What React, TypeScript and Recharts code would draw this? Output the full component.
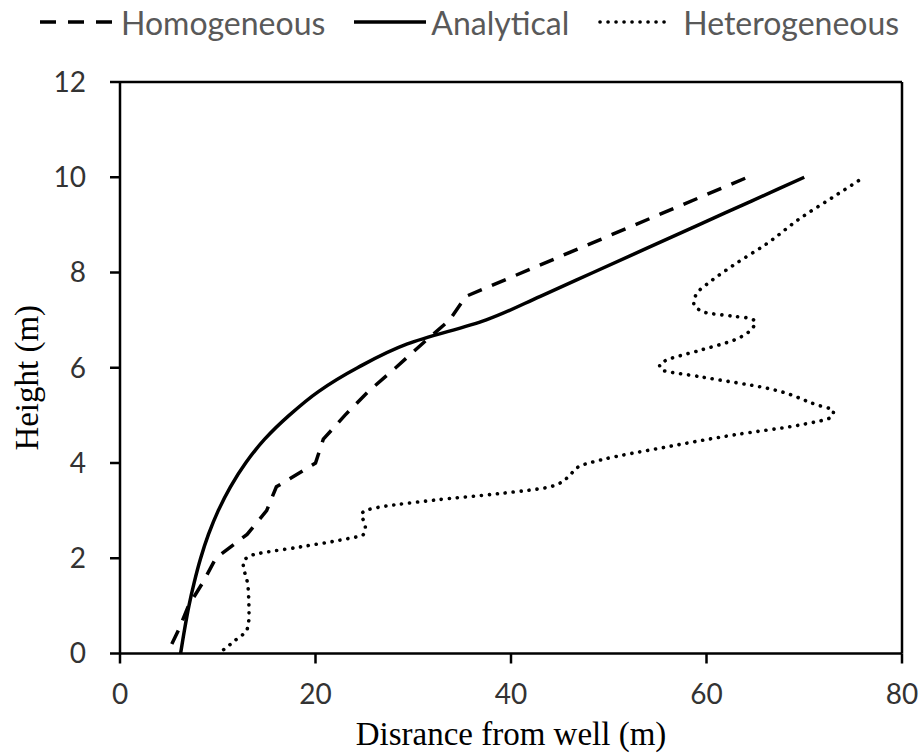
import React from 'react';
import { LineChart, Line, XAxis, YAxis, ReferenceLine, Legend } from 'recharts';

// ---- Data ----
const xTicks = [0, 20, 40, 60, 80];
const yTicks = [0, 2, 4, 6, 8, 10, 12];

const homogeneousDistance = [5.3, 6.0, 7.0, 8.5, 9.8, 13.0, 15.0, 16.0, 20.0, 20.8, 23.0, 25.4, 28.2, 30.9, 33.7, 35.4, 64.2];
const homogeneousHeight = [0.2, 0.5, 1.0, 1.5, 2.0, 2.5, 3.0, 3.5, 4.0, 4.5, 5.0, 5.5, 6.0, 6.5, 7.0, 7.5, 10.0];

const analyticalDistance = [6.2, 6.6, 7.05, 7.6, 8.25, 9.05, 10.05, 11.3, 12.85, 14.8, 17.3, 20.3, 24.3, 29.4, 37.4, 43.0, 48.4, 53.8, 59.2, 64.6, 70.0];
const analyticalHeight = [0, 0.5, 1.0, 1.5, 2.0, 2.5, 3.0, 3.5, 4.0, 4.5, 5.0, 5.5, 6.0, 6.5, 7.0, 7.5, 8.0, 8.5, 9.0, 9.5, 10.0];

const heterogeneousDistance = [
  10.6, 11.8, 13.0, 13.2, 13.1, 12.6, 13.3, 18.5, 22.5, 24.9, 25.1, 24.7, 25.4, 32.1, 38.9, 44.0, 45.7, 47.1, 49.1,
  56.0, 62.8, 69.6, 72.8, 73.0, 71.3, 66.2, 59.4, 55.4, 55.2, 55.7, 59.4, 62.8, 64.8, 65.0, 64.4, 62.8, 59.7, 58.7,
  59.0, 60.4, 62.8, 66.2, 69.6, 73.0, 76.1,
];
const heterogeneousHeight = [
  0.08, 0.28, 0.5, 0.8, 1.4, 1.9, 2.05, 2.24, 2.38, 2.5, 2.68, 2.92, 3.02, 3.22, 3.36, 3.5, 3.68, 3.94, 4.06,
  4.34, 4.59, 4.8, 4.97, 5.1, 5.22, 5.57, 5.81, 5.96, 6.06, 6.14, 6.37, 6.58, 6.86, 6.96, 7.04, 7.08, 7.17, 7.35,
  7.56, 7.81, 8.16, 8.61, 9.14, 9.59, 10.0,
];

const seriesNames = ['Homogeneous', 'Analytical', 'Heterogeneous'];

const toPoints = (xs: number[], ys: number[]) => xs.map((x, i) => ({ x, y: ys[i] }));
const homogeneousData = toPoints(homogeneousDistance, homogeneousHeight);
const analyticalData = toPoints(analyticalDistance, analyticalHeight);
const heterogeneousData = toPoints(heterogeneousDistance, heterogeneousHeight);

// ---- Styles ----
const SANS = "Lato, 'Open Sans', sans-serif";
const SERIF = "'Liberation Serif', 'Times New Roman', serif";
const AXIS_STROKE = { stroke: '#000', strokeWidth: 2.5 };

const lineStyles = [
  { strokeWidth: 3.5, strokeDasharray: '15 11', strokeLinecap: 'butt' as const, legendDash: '16 12' },
  { strokeWidth: 3.5, strokeDasharray: undefined, strokeLinecap: 'butt' as const, legendDash: undefined },
  { strokeWidth: 3.6, strokeDasharray: '0.1 7.9', strokeLinecap: 'round' as const, legendDash: '0.1 7.9' },
];

const legendGaps = [9, 5, 13];

const renderLegend = () => (
  <div
    style={{
      display: 'flex',
      alignItems: 'center',
      height: 44,
      paddingLeft: 40,
      fontFamily: SANS,
      fontSize: 32,
      color: '#595959',
      whiteSpace: 'nowrap',
    }}
  >
    {seriesNames.map((name, i) => (
      <div key={name} style={{ display: 'flex', alignItems: 'center', marginRight: 29 }}>
        <svg width={72} height={10} style={{ marginRight: legendGaps[i] }}>
          <line
            x1={i === 2 ? 2 : 0}
            y1={5}
            x2={72}
            y2={5}
            stroke="#000"
            strokeWidth={lineStyles[i].strokeWidth}
            strokeDasharray={lineStyles[i].legendDash}
            strokeLinecap={lineStyles[i].strokeLinecap}
          />
        </svg>
        <span>{name}</span>
      </div>
    ))}
  </div>
);

const XTitle = (props: any) => {
  const vb = props.viewBox || {};
  return (
    <text
      x={vb.x + vb.width / 2}
      y={vb.y + 91.5}
      textAnchor="middle"
      fontFamily={SERIF}
      fontSize={33}
      fill="#000"
    >
      Disrance from well (m)
    </text>
  );
};

const YTitle = (props: any) => {
  const vb = props.viewBox || {};
  const cx = 38;
  const cy = vb.y + vb.height / 2 + 10;
  return (
    <text
      x={cx}
      y={cy}
      transform={`rotate(-90, ${cx}, ${cy})`}
      textAnchor="middle"
      fontFamily={SERIF}
      fontSize={33}
      fill="#000"
    >
      Height (m)
    </text>
  );
};

export default function App() {
  const datasets = [homogeneousData, analyticalData, heterogeneousData];
  const curveTypes = ['linear', 'monotoneY', 'monotoneY'] as const;
  return (
    <div style={{ position: 'absolute', left: 0, top: 0, background: '#fff' }}>
      <LineChart width={922} height={756} margin={{ top: 0, right: 20, bottom: 0, left: 0 }}>
        <Legend
          verticalAlign="top"
          align="left"
          height={82}
          width={922}
          wrapperStyle={{ top: 0, left: 0 }}
          content={renderLegend}
        />
        <XAxis
          type="number"
          dataKey="x"
          domain={[0, 80]}
          ticks={xTicks}
          allowDataOverflow
          height={102.5}
          tickSize={10}
          tickMargin={21}
          axisLine={AXIS_STROKE}
          tickLine={AXIS_STROKE}
          tick={{ fill: '#333', fontSize: 28, fontFamily: SANS }}
          label={<XTitle />}
        />
        <YAxis
          type="number"
          dataKey="y"
          domain={[0, 12]}
          ticks={yTicks}
          allowDataOverflow
          width={120}
          tickSize={10}
          tickMargin={24}
          axisLine={AXIS_STROKE}
          tickLine={AXIS_STROKE}
          tick={{ fill: '#333', fontSize: 28, fontFamily: SANS }}
          label={<YTitle />}
        />
        <ReferenceLine y={12} stroke="#000" strokeWidth={2.5} />
        <ReferenceLine x={80} stroke="#000" strokeWidth={2.5} />
        {datasets.map((d, i) => (
          <Line
            key={seriesNames[i]}
            name={seriesNames[i]}
            data={d}
            dataKey="y"
            type={curveTypes[i]}
            stroke="#000"
            strokeWidth={lineStyles[i].strokeWidth}
            strokeDasharray={lineStyles[i].strokeDasharray}
            strokeLinecap={lineStyles[i].strokeLinecap}
            dot={false}
            activeDot={false}
            isAnimationActive={false}
          />
        ))}
      </LineChart>
    </div>
  );
}
